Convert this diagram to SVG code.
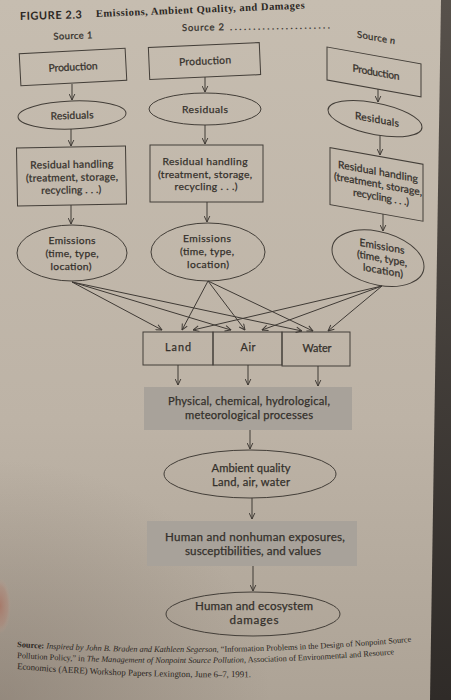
<svg xmlns="http://www.w3.org/2000/svg" width="451" height="700" viewBox="0 0 451 700">
  <defs>
    <linearGradient id="page" x1="0" y1="0" x2="0" y2="1">
      <stop offset="0" stop-color="#c6bdb0"/>
      <stop offset="0.6" stop-color="#bdb3a6"/>
      <stop offset="1" stop-color="#ada396"/>
    </linearGradient>
    <radialGradient id="shade" cx="0" cy="1" r="0.6">
      <stop offset="0" stop-color="#6e6258" stop-opacity="0.4"/>
      <stop offset="1" stop-color="#6e6258" stop-opacity="0"/>
    </radialGradient>
    <linearGradient id="edge" x1="0" y1="0" x2="0" y2="1">
      <stop offset="0" stop-color="#57514b"/>
      <stop offset="1" stop-color="#2f2b28"/>
    </linearGradient>
    <radialGradient id="finger" cx="0.5" cy="0.5" r="0.5">
      <stop offset="0" stop-color="#a8705f" stop-opacity="0.75"/>
      <stop offset="0.7" stop-color="#b08474" stop-opacity="0.45"/>
      <stop offset="1" stop-color="#c0a090" stop-opacity="0"/>
    </radialGradient>
    <marker id="ah" viewBox="0 0 10 10" refX="9.5" refY="5" markerWidth="7" markerHeight="7" orient="auto" markerUnits="userSpaceOnUse">
      <path d="M1,1 L9.5,5 L1,9" fill="none" stroke="#3d3833" stroke-width="1.4"/>
    </marker>
    <path id="cite1" d="M17,647 Q230,660 430,640"/>
    <path id="cite2" d="M17,658 Q230,671 430,651"/>
    <path id="cite3" d="M17,669 Q135,679 280,677"/>
  </defs>
  <style>
    .t { font-family: Lato, "Open Sans", "Liberation Sans", sans-serif; fill: #34302b; stroke: #34302b; stroke-width: 0.25; text-anchor: middle; }
    .box { fill: none; stroke: #433e38; stroke-width: 1; }
    .gray { fill: #a8a29a; }
    .conn line { stroke: #3f3a35; stroke-width: 1; marker-end: url(#ah); }
    .cite { font-family: "Liberation Serif", "Times New Roman", serif; fill: #2b2622; font-size: 8.3px; }
  </style>

  <!-- page background -->
  <rect x="0" y="0" width="451" height="700" fill="url(#page)"/>
  <rect x="0" y="300" width="451" height="400" fill="url(#shade)"/>
  <ellipse cx="0" cy="606" rx="11" ry="28" fill="url(#finger)"/>
  <polygon points="441,0 451,0 451,700 430,700" fill="url(#edge)"/>

  <!-- title -->
  <g id="title">
    <text x="20" y="20" font-family="Lato, 'Open Sans', sans-serif" font-weight="bold" font-size="11" fill="#2c2824" textLength="62" transform="rotate(-1.5 20 20)">FIGURE 2.3</text>
    <text x="96" y="17" font-family="'Liberation Serif', serif" font-weight="bold" font-size="10.5" fill="#2c2824" textLength="209" transform="rotate(-2.3 96 17)">Emissions, Ambient Quality, and Damages</text>
  </g>

  <!-- source headers -->
  <g id="source1-label">
    <text class="t" x="73" y="39" font-size="9.5" textLength="39" transform="rotate(-2 73 39)">Source 1</text>
  </g>
  <g id="source2-label">
    <text class="t" y="31" font-size="9.5" style="text-anchor:start" transform="rotate(-1 182 31)"><tspan x="182" textLength="42">Source 2</tspan><tspan x="230" textLength="100">......................</tspan></text>
  </g>

  <!-- column 1 -->
  <g id="src1-production" transform="rotate(-3 73 67)">
    <rect class="box" x="20" y="51" width="106" height="32"/>
    <text class="t" x="73" y="70.5" font-size="10.3" textLength="49">Production</text>
  </g>
  <g id="src1-residuals" transform="rotate(-2 72 115)">
    <ellipse class="box" cx="72" cy="115" rx="54" ry="14"/>
    <text class="t" x="72" y="119" font-size="10.3" textLength="43">Residuals</text>
  </g>
  <g id="src1-handling" transform="rotate(-1 71 176)">
    <rect class="box" x="17" y="147" width="109" height="58"/>
    <text class="t" x="72" y="168" font-size="10.3" textLength="83">Residual handling</text>
    <text class="t" x="72" y="181" font-size="10.3" textLength="92">(treatment, storage,</text>
    <text class="t" x="71" y="193.5" font-size="10.3" textLength="60">recycling . . .)</text>
  </g>
  <g id="src1-emissions">
    <ellipse class="box" cx="72" cy="253" rx="55" ry="28"/>
    <text class="t" x="72" y="244" font-size="10.3" textLength="47">Emissions</text>
    <text class="t" x="72" y="257" font-size="10.3" textLength="53">(time, type,</text>
    <text class="t" x="71" y="269.5" font-size="10.3" textLength="41">location)</text>
  </g>

  <!-- column 2 -->
  <g id="src2-production" transform="rotate(-2.5 205 61)">
    <rect class="box" x="149" y="45" width="111" height="32"/>
    <text class="t" x="205" y="64.5" font-size="10.3" textLength="52">Production</text>
  </g>
  <g id="src2-residuals">
    <ellipse class="box" cx="205" cy="109" rx="56" ry="16"/>
    <text class="t" x="205" y="113" font-size="10.3" textLength="46">Residuals</text>
  </g>
  <g id="src2-handling">
    <rect class="box" x="150" y="145" width="113" height="57"/>
    <text class="t" x="205" y="165" font-size="10.3" textLength="85">Residual handling</text>
    <text class="t" x="205" y="177.5" font-size="10.3" textLength="94">(treatment, storage,</text>
    <text class="t" x="206" y="190" font-size="10.3" textLength="63">recycling . . .)</text>
  </g>
  <g id="src2-emissions">
    <ellipse class="box" cx="208" cy="252" rx="57" ry="29"/>
    <text class="t" x="207" y="242" font-size="10.3" textLength="48">Emissions</text>
    <text class="t" x="207" y="255" font-size="10.3" textLength="54">(time, type,</text>
    <text class="t" x="208" y="267.5" font-size="10.3" textLength="42">location)</text>
  </g>

  <!-- column n (page curvature: sheared) -->
  <g transform="matrix(1 0.18 0 1 0 -58.86)">
    <g id="sourcen-label">
      <text class="t" x="357" y="32" font-size="9.5" style="text-anchor:start" textLength="38">Source <tspan font-style="italic">n</tspan></text>
    </g>
    <g id="srcn-production">
      <rect class="box" x="327" y="47" width="94" height="33"/>
      <text class="t" x="376" y="67" font-size="10.3" textLength="47">Production</text>
    </g>
    <g id="srcn-residuals">
      <ellipse class="box" cx="375" cy="110" rx="47" ry="16"/>
      <text class="t" x="377" y="114" font-size="10.3" textLength="44">Residuals</text>
    </g>
    <g id="srcn-handling">
      <rect class="box" x="330" y="147" width="93" height="57"/>
      <text class="t" x="378" y="166" font-size="10.3" textLength="80">Residual handling</text>
      <text class="t" x="378" y="178.5" font-size="10.3" textLength="88">(treatment, storage,</text>
      <text class="t" x="381" y="191" font-size="10.3" textLength="56">recycling . . .)</text>
    </g>
    <g id="srcn-emissions">
      <ellipse class="box" cx="378" cy="249" rx="46" ry="27"/>
      <text class="t" x="382" y="240" font-size="10.3" textLength="45">Emissions</text>
      <text class="t" x="382" y="252" font-size="10.3" textLength="50">(time, type,</text>
      <text class="t" x="383" y="264" font-size="10.3" textLength="40">location)</text>
    </g>
  </g>

  <!-- media -->
  <g id="land">
    <rect class="box" x="143" y="332" width="70" height="33"/>
    <text class="t" x="178" y="351" font-size="10.8" textLength="26">Land</text>
  </g>
  <g id="air">
    <rect class="box" x="213" y="332" width="69" height="33"/>
    <text class="t" x="248" y="350.5" font-size="10.8" textLength="15">Air</text>
  </g>
  <g id="water">
    <rect class="box" x="282" y="332" width="68" height="34"/>
    <text class="t" x="317" y="352" font-size="10.8" textLength="29">Water</text>
  </g>

  <g id="processes">
    <rect class="gray" x="144" y="387" width="208" height="43"/>
    <text class="t" x="249" y="405" font-size="11.2" textLength="162">Physical, chemical, hydrological,</text>
    <text class="t" x="249" y="419" font-size="11.2" textLength="128">meteorological processes</text>
  </g>
  <g id="ambient">
    <ellipse class="box" cx="250" cy="474" rx="86" ry="24"/>
    <text class="t" x="251" y="472" font-size="11.2" textLength="79">Ambient quality</text>
    <text class="t" x="251" y="486" font-size="11.2" textLength="78">Land, air, water</text>
  </g>
  <g id="exposures">
    <rect class="gray" x="147" y="521" width="210" height="45"/>
    <text class="t" x="255" y="541" font-size="11.6" textLength="180">Human and nonhuman exposures,</text>
    <text class="t" x="253" y="555" font-size="11.6" textLength="136">susceptibilities, and values</text>
  </g>
  <g id="damages">
    <ellipse class="box" cx="253" cy="614" rx="87" ry="22"/>
    <text class="t" x="254" y="610" font-size="11.6" textLength="118">Human and ecosystem</text>
    <text class="t" x="254" y="624" font-size="11.6" textLength="49">damages</text>
  </g>

  <!-- connectors -->
  <g id="connectors" class="conn">
    <line x1="72" y1="84" x2="72" y2="100"/>
    <line x1="71" y1="129" x2="71" y2="146"/>
    <line x1="71" y1="205" x2="71" y2="224"/>
    <line x1="205" y1="77" x2="205" y2="92"/>
    <line x1="205" y1="125" x2="205" y2="144"/>
    <line x1="207" y1="202" x2="207" y2="222"/>
    <line x1="378" y1="89" x2="378" y2="102"/>
    <line x1="380" y1="135.5" x2="380" y2="155"/>
    <line x1="383" y1="214" x2="383" y2="231"/>

    <line x1="72" y1="282" x2="162" y2="330"/>
    <line x1="72" y1="282" x2="231" y2="330"/>
    <line x1="72" y1="282" x2="302" y2="331"/>
    <line x1="208" y1="281" x2="182" y2="330"/>
    <line x1="208" y1="281" x2="245" y2="330"/>
    <line x1="208" y1="281" x2="313" y2="331"/>
    <line x1="382" y1="286" x2="193" y2="330"/>
    <line x1="382" y1="286" x2="262" y2="330"/>
    <line x1="382" y1="286" x2="328" y2="331"/>

    <line x1="178" y1="365" x2="178" y2="385"/>
    <line x1="248" y1="365" x2="248" y2="385"/>
    <line x1="318" y1="366" x2="318" y2="386"/>
    <line x1="250" y1="430" x2="250" y2="449"/>
    <line x1="252" y1="498" x2="252" y2="519"/>
    <line x1="253" y1="566" x2="253" y2="591"/>
  </g>

  <!-- citation -->
  <g id="citation">
    <text class="cite"><textPath href="#cite1"><tspan font-weight="bold">Source:</tspan><tspan font-style="italic"> Inspired by John B. Braden and Kathleen Segerson,</tspan> “Information Problems in the Design of Nonpoint Source</textPath></text>
    <text class="cite"><textPath href="#cite2">Pollution Policy,” in <tspan font-style="italic">The Management of Nonpoint Source Pollution</tspan>, Association of Environmental and Resource</textPath></text>
    <text class="cite" style="font-size:8.9px"><textPath href="#cite3">Economics (AERE) Workshop Papers Lexington, June 6–7, 1991.</textPath></text>
  </g>
</svg>
